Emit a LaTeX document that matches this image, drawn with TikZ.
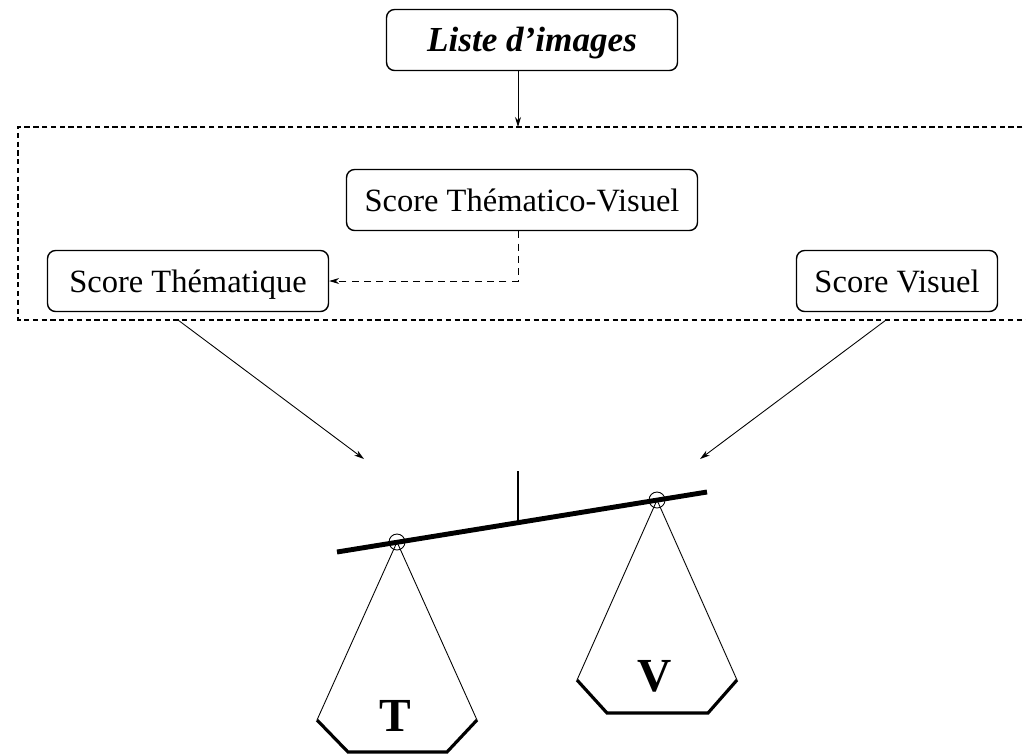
\documentclass[tikz,border=0pt]{standalone}
\usepackage{fontspec}
\setmainfont{Liberation Serif}
\usetikzlibrary{positioning, arrows.meta, shapes}

\begin{document}
\begin{tikzpicture}[
    x=0.02cm, y=-0.02cm,
    box/.style={rectangle, draw, line width=0.8pt, rounded corners=0.16cm,
                minimum height=1.22cm, inner sep=0pt, text height=0.5cm, text depth=0.06cm,
                font=\fontsize{18.5}{20}\selectfont},
    arrow/.style={-{Stealth[length=0.2cm, width=0.12cm]}, line width=0.5pt},
    dasharrow/.style={arrow, dash pattern=on 4pt off 3pt},
    frame/.style={line width=0.7pt, dash pattern=on 3pt off 2pt},
    beam/.style={line width=2.8pt},
    panbase/.style={line width=1.8pt, line join=miter},
    hook/.style={circle, draw, line width=0.5pt, minimum size=0.32cm, inner sep=0pt},
    weight/.style={font=\fontsize{27}{30}\selectfont\bfseries}
]
    \useasboundingbox (0,0) rectangle (1026,755);
    \clip (0,0) rectangle (1026,755);

    % Boxes
    \node[box, minimum width=5.82cm, font=\fontsize{20}{22}\selectfont\bfseries\itshape]
        (liste) at (532,40) {Liste d'images};
    \node[box, minimum width=7.02cm] (stv) at (522,200) {Score Thématico-Visuel};
    \node[box, minimum width=5.62cm] (st) at (188,281) {Score Thématique};
    \node[box, minimum width=4.02cm] (sv) at (897,281) {Score Visuel};

    % Dotted frame around the scores
    \draw[frame] (1040,127) -- (18,127) -- (18,320) -- (1040,320);
    \coordinate (frametop) at (518,127);
    \coordinate (tout) at (178,320);
    \coordinate (vout) at (886,320);

    % Connections
    \draw[arrow] (liste.south -| frametop) -- (frametop);
    \draw[dasharrow] (stv.south -| frametop) -- (frametop |- st.east) -- (st.east);

    % Scale
    \coordinate (pivot) at (518,522);
    \coordinate (posttop) at (518,471);
    \coordinate (beamL) at (337,552);
    \coordinate (beamR) at (707,492);
    \coordinate (tipT) at (364,459);
    \coordinate (tipV) at (700,459);

    \draw[arrow] (tout) -- (tipT);
    \draw[arrow] (vout) -- (tipV);

    \draw[line width=0.6pt] (posttop) -- (pivot);
    \draw[beam] (beamL) -- (beamR);
    \node[hook] (hookT) at (397,542) {};
    \node[hook] (hookV) at (657,500) {};

    % Pans
    \draw[line width=0.5pt] (317,720) -- (hookT.center) -- (477,720);
    \draw[panbase] (317,720) -- (348,752) -- (447,752) -- (477,720);
    \draw[line width=0.5pt] (577,680) -- (hookV.center) -- (737,680);
    \draw[panbase] (577,680) -- (607,713) -- (708,713) -- (737,680);

    \node[weight] (wT) at (395,716) {T};
    \node[weight] (wV) at (655,676) {V};
\end{tikzpicture}
\end{document}
